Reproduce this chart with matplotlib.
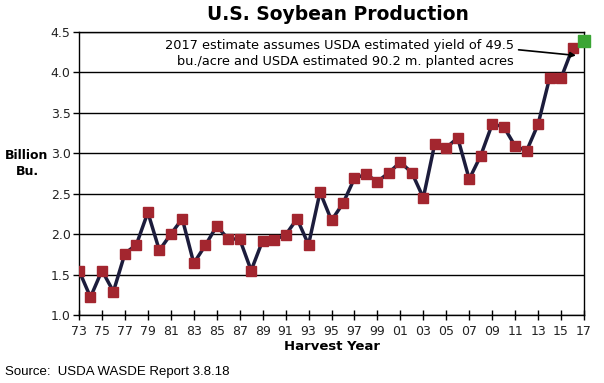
import matplotlib.pyplot as plt

# soybean production, billion bushels, harvest years 1973-2016
years = list(range(1973, 2017))
production = [1.55, 1.22, 1.55, 1.29, 1.76, 1.87, 2.27, 1.80, 2.00, 2.19,
              1.64, 1.86, 2.10, 1.94, 1.94, 1.55, 1.92, 1.93, 1.99, 2.19,
              1.87, 2.52, 2.17, 2.38, 2.69, 2.74, 2.65, 2.76, 2.89, 2.76,
              2.45, 3.12, 3.07, 3.19, 2.68, 2.97, 3.36, 3.33, 3.09, 3.03,
              3.36, 3.93, 3.93, 4.30]
est_year = 2017
est_value = 4.39

tick_years = list(range(1973, 2018, 2))
tick_labels = ['%02d' % (y % 100) for y in tick_years]
y_ticks = [1.0, 1.5, 2.0, 2.5, 3.0, 3.5, 4.0, 4.5]

fig = plt.figure(figsize=(6.04, 3.83), dpi=100)
ax = fig.add_axes([79/604, 1-315/383, (584-79)/604, (315-32)/383])

for v in y_ticks:
    ax.axhline(v, color='black', lw=1, zorder=1)

ax.plot(years, production, color='#1c1c3c', lw=2.5, zorder=2)
ax.plot(years, production, ls='none', marker='s', ms=7.5,
        color='#a3262f', zorder=3)
ax.plot([est_year], [est_value], ls='none', marker='s', ms=8.5,
        color='#3aa534', zorder=4, clip_on=False)

ax.set_xlim(1973, 2017)
ax.set_ylim(1.0, 4.5)
ax.set_xticks(tick_years)
ax.set_xticklabels(tick_labels, fontsize=9, color='#222222')
ax.set_yticks(y_ticks)
ax.set_yticklabels(['%.1f' % v for v in y_ticks], fontsize=9, color='#222222')
ax.tick_params(axis='x', direction='inout', length=7, width=1, pad=4)
ax.tick_params(axis='y', direction='out', length=4, width=1, pad=2)
for s in ax.spines.values():
    s.set_linewidth(1)
    s.set_color('black')

ax.set_xlabel('Harvest Year', fontsize=9.5, fontweight='bold', labelpad=1)
fig.text(27/604, 1-164/383, 'Billion\nBu.', ha='center', va='center',
         fontsize=9, fontweight='bold', linespacing=1.3)
fig.text(338/604, 1-15/383, 'U.S. Soybean Production', ha='center',
         va='center', fontsize=13.5, fontweight='bold')

ax.text(2010.9, 4.24,
        '2017 estimate assumes USDA estimated yield of 49.5\n'
        'bu./acre and USDA estimated 90.2 m. planted acres',
        ha='right', va='center', fontsize=9.3, linespacing=1.3)
ax.annotate('', xy=(2016.3, 4.21), xytext=(2011.3, 4.28),
            arrowprops=dict(arrowstyle='-|>', color='black', lw=1.2,
                            mutation_scale=8, shrinkA=0, shrinkB=0))

fig.text(5/604, 1-372/383, 'Source:  USDA WASDE Report 3.8.18', ha='left',
         va='center', fontsize=9.5, family='Liberation Sans')

fig.savefig('out.png', dpi=100)
